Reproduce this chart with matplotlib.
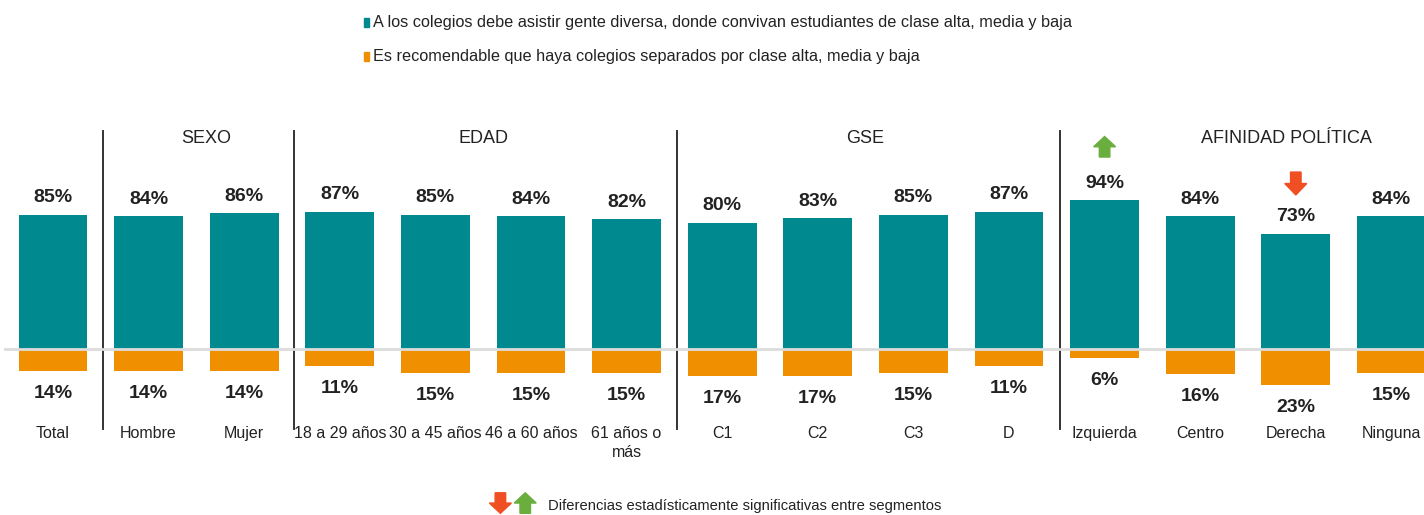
import matplotlib.pyplot as plt
from matplotlib.patches import Polygon

plt.rcParams['font.family'] = ['Liberation Sans', 'DejaVu Sans']

categorias = ["Total", "Hombre", "Mujer", "18 a 29 años", "30 a 45 años", "46 a 60 años",
              "61 años o\nmás", "C1", "C2", "C3", "D", "Izquierda", "Centro", "Derecha", "Ninguna"]
diversa = [85, 84, 86, 87, 85, 84, 82, 80, 83, 85, 87, 94, 84, 73, 84]
separados = [14, 14, 14, 11, 15, 15, 15, 17, 17, 15, 11, 6, 16, 23, 15]
grupos = ["SEXO", "EDAD", "GSE", "AFINIDAD POLÍTICA"]
sube = [11]
baja = [13]

serie1 = "A los colegios debe asistir gente diversa, donde convivan estudiantes de clase alta, media y baja"
serie2 = "Es recomendable que haya colegios separados por clase alta, media y baja"
nota = "Diferencias estadísticamente significativas entre segmentos"

teal = "#00898F"
naranja = "#F09000"
verde = "#6AAE3E"
rojo = "#F04E23"

fig = plt.figure(figsize=(14.24, 5.15), dpi=100)
ax = fig.add_axes([0, 0, 1, 1])
ax.axis("off")
ax.set_xlim(-0.554, 14.341)
ax.set_ylim(-105.06, 220.9)

x = list(range(len(categorias)))
ax.bar(x, diversa, width=0.72, color=teal, zorder=2)
ax.bar(x, [-v for v in separados], width=0.72, color=naranja, zorder=2)
ax.plot([-0.5, 14.4], [0, 0], color="#dcdcdc", lw=2, zorder=3)

for i, (a, b) in enumerate(zip(diversa, separados)):
    ax.annotate(f"{a}%", (i, a), xytext=(0, 6), textcoords="offset points",
                ha="center", va="bottom", fontsize=14, fontweight="bold", color="#222222")
    ax.annotate(f"{b}%", (i, -b), xytext=(0, -10), textcoords="offset points",
                ha="center", va="top", fontsize=14, fontweight="bold", color="#222222")
    ax.text(i, -49, categorias[i], ha="center", va="top", fontsize=11.5,
            color="#222222", linespacing=1.3)

# separadores de grupo
for sx in [0.52, 2.52, 6.53, 10.53]:
    ax.plot([sx, sx], [138, -50.6], color="#333333", lw=1.4, zorder=1)

for nombre, hx in zip(grupos, [1.6, 4.5, 8.5, 12.9]):
    ax.text(hx, 133, nombre, ha="center", va="center", fontsize=13, color="#222222")


def flecha(cx, y0, y1, color):
    # y0 = base, y1 = punta
    w = 0.115
    ws = 0.055
    ym = y0 + (y1 - y0) * 0.5
    pts = [(cx - ws, y0), (cx + ws, y0), (cx + ws, ym), (cx + w, ym),
           (cx, y1), (cx - w, ym), (cx - ws, ym)]
    ax.add_patch(Polygon(pts, closed=True, color=color, zorder=4))


for i in sube:
    flecha(i, 121.5, 134.5, verde)
for i in baja:
    flecha(i, 112, 97.5, rojo)

# leyenda superior
ax.add_patch(Polygon([(3.255, 203.5), (3.31, 203.5), (3.31, 209.5), (3.255, 209.5)], color=teal))
ax.text(3.35, 206.5, serie1, va="center", fontsize=11.7, color="#222222")
ax.add_patch(Polygon([(3.255, 182), (3.31, 182), (3.31, 188), (3.255, 188)], color=naranja))
ax.text(3.35, 185, serie2, va="center", fontsize=11.7, color="#222222")

# leyenda inferior
flecha(4.68, -91, -104, rojo)
flecha(4.94, -104, -91, verde)
ax.text(5.18, -99.5, nota, va="center", fontsize=10.6, color="#222222")

fig.savefig("out.png", dpi=100)
